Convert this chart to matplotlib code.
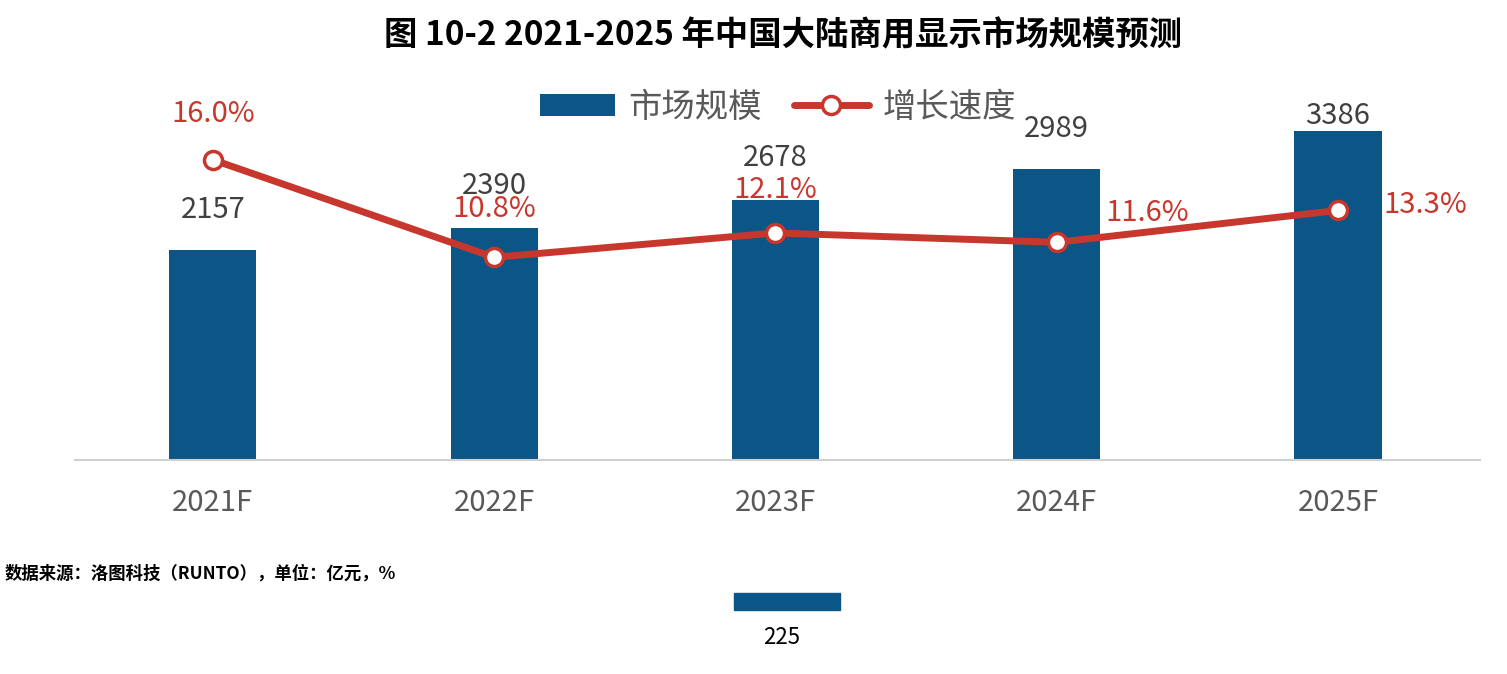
import matplotlib
matplotlib.use("Agg")
import matplotlib.pyplot as plt
from matplotlib.patches import Rectangle

plt.rcParams['font.family'] = ['Noto Sans CJK SC', 'DejaVu Sans']

years = ['2021F', '2022F', '2023F', '2024F', '2025F']
market = [2157, 2390, 2678, 2989, 3386]
growth = [16.0, 10.8, 12.1, 11.6, 13.3]
growth_labels = ['16.0%', '10.8%', '12.1%', '11.6%', '13.3%']

BLUE = '#0b5587'
RED = '#c8372d'
GRAY = '#595959'

W, H = 1507, 674
fig = plt.figure(figsize=(W / 100, H / 100), dpi=100)

# axes box in pixels: x 75..1480, baseline at y=460, top at y=80
left, right, bottom, top = 75, 1480, 460, 80
ax = fig.add_axes([left / W, 1 - bottom / H, (right - left) / W, (bottom - top) / H])
ax2 = ax.twinx()

x = list(range(len(years)))
ax.bar(x, market, width=0.31, color=BLUE, zorder=2, label='市场规模')
ax.set_xlim(-0.49, 4.505)
ax.set_ylim(0, 3909)
ax2.set_ylim(0, 20.25)

ax2.plot(x, growth, color=RED, lw=5, marker='o', ms=13, mfc='white',
         mec=RED, mew=2.5, zorder=3, label='增长速度', solid_capstyle='round')

for a in (ax, ax2):
    a.set_yticks([])
    for s in a.spines.values():
        s.set_visible(False)
ax.spines['bottom'].set_visible(True)
ax.spines['bottom'].set_color('#d0d0d0')
ax.spines['bottom'].set_linewidth(1.5)

ax.set_xticks(x)
ax.set_xticklabels(years, fontsize=21, color=GRAY)
ax.tick_params(axis='x', length=0, pad=20)

# value labels (offsets in points)
bar_off = [29, 30, 30, 29, 11]
for xi, v, off in zip(x, market, bar_off):
    ax.annotate(str(v), (xi, v), xytext=(0, off), textcoords='offset points',
                ha='center', va='center', fontsize=21, color='#404040')

pct_off = [(0, 33), (0, 35), (0, 31), (65, 21), (63, 4)]
for xi, v, lab, (dx, dy) in zip(x, growth, growth_labels, pct_off):
    ax2.annotate(lab, (xi, v), xytext=(dx, dy), textcoords='offset points',
                 ha='center', va='center', fontsize=21, color=RED)

h1, l1 = ax.get_legend_handles_labels()
h2, l2 = ax2.get_legend_handles_labels()
fig.legend(h1 + h2, l1 + l2, loc='center', bbox_to_anchor=(778 / W, 1 - 107 / H),
           ncol=2, frameon=False, fontsize=24, labelcolor=GRAY,
           handlelength=2.25, handleheight=0.63, columnspacing=0.95, handletextpad=0.4)

fig.text(783 / W, 1 - 36 / H, '图 10-2 2021-2025 年中国大陆商用显示市场规模预测',
         ha='center', va='center', fontsize=24, fontweight='bold', color='black')
fig.text(5 / W, 1 - 574 / H, '数据来源：洛图科技（RUNTO），单位：亿元，%',
         ha='left', va='center', fontsize=12.5, fontweight='bold', color='black')

fig.patches.append(Rectangle((734 / W, 1 - 610 / H), 106 / W, 17 / H,
                             transform=fig.transFigure, color=BLUE))
fig.text(782 / W, 1 - 638 / H, '225', ha='center', va='center', fontsize=16, color='black')

fig.savefig('out.png', dpi=100)
